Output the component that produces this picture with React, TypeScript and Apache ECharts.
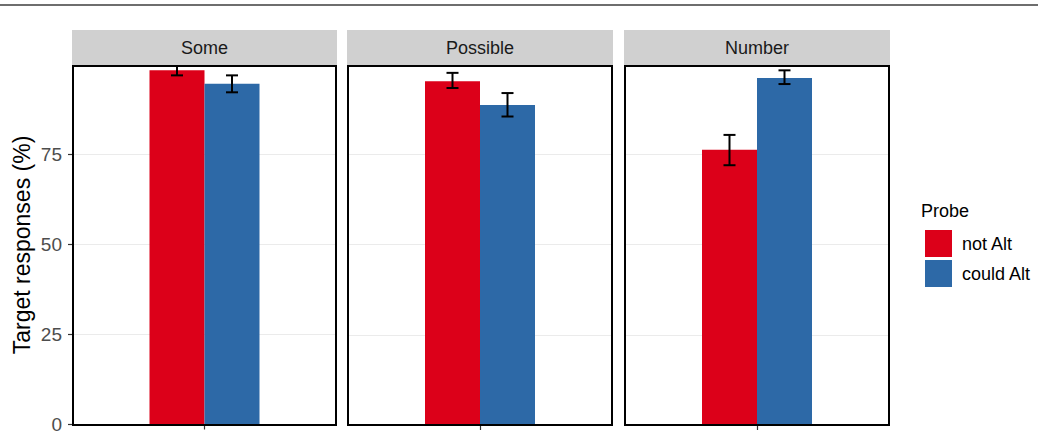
import React, { useEffect, useRef } from "react";
import * as echarts from "echarts";

const facets = ["Some", "Possible", "Number"];
const probes = ["not Alt", "could Alt"];
const notAltMean = [98.3, 95.3, 76.3];
const notAltLow = [96.9, 93.4, 72.0];
const notAltHigh = [99.5, 97.6, 80.4];
const couldAltMean = [94.6, 88.7, 96.2];
const couldAltLow = [92.2, 85.5, 94.5];
const couldAltHigh = [96.9, 92.0, 98.3];
const yTicks = [0, 25, 50, 75];
const yMax = 99.5;

const COLORS = ["#dc0019", "#2d69a7"];
const FONT = "Liberation Sans, Arial, Helvetica, sans-serif";
const BAR_W = 55;
const panels = [
  { left: 73, width: 263 },
  { left: 348, width: 264 },
  { left: 625, width: 264 },
];
const TOP = 66;
const BOTTOM_Y = 425;
const STRIP_TOP = 30;

export default function App() {
  const ref = useRef<HTMLDivElement>(null);
  useEffect(() => {
    if (!ref.current) return;
    const chart = echarts.init(ref.current, undefined, { renderer: "svg" });
    const grids: any[] = [];
    const xAxes: any[] = [];
    const yAxes: any[] = [];
    const series: any[] = [];
    const graphics: any[] = [];
    const means = [notAltMean, couldAltMean];
    const lows = [notAltLow, couldAltLow];
    const highs = [notAltHigh, couldAltHigh];

    facets.forEach((f, i) => {
      const p = panels[i];
      grids.push({
        left: p.left,
        width: p.width,
        top: TOP,
        height: BOTTOM_Y - TOP,
        containLabel: false,
      });
      xAxes.push({
        type: "category",
        gridIndex: i,
        data: [f],
        axisLine: { show: false },
        axisLabel: { show: false },
        axisTick: {
          show: true,
          alignWithLabel: true,
          length: 5,
          lineStyle: { color: "#333333", width: 1.2 },
        },
        splitLine: { show: false },
      });
      yAxes.push({
        type: "value",
        gridIndex: i,
        min: 0,
        max: yMax,
        interval: 25,
        axisLine: { show: false },
        axisTick: {
          show: i === 0,
          length: 5,
          customValues: yTicks,
          lineStyle: { color: "#333333", width: 1.2 },
        },
        axisLabel: {
          show: i === 0,
          customValues: yTicks,
          hideOverlap: false,
          margin: 11,
          color: "#4d4d4d",
          fontSize: 19,
          fontFamily: FONT,
          formatter: (v: number) => (yTicks.indexOf(v) >= 0 ? String(v) : ""),
        },
        splitLine: { show: true, lineStyle: { color: "#ebebeb", width: 1 } },
      });
      probes.forEach((pr, j) => {
        series.push({
          type: "bar",
          name: pr,
          xAxisIndex: i,
          yAxisIndex: i,
          data: [means[j][i]],
          barWidth: BAR_W,
          barGap: "0%",
          itemStyle: { color: COLORS[j] },
        });
      });
      series.push({
        type: "custom",
        xAxisIndex: i,
        yAxisIndex: i,
        z: 10,
        data: probes.map((_, j) => [j, lows[j][i], highs[j][i]]),
        renderItem: (params: any, api: any) => {
          const j = api.value(0);
          const lo = api.coord([0, api.value(1)]);
          const hi = api.coord([0, api.value(2)]);
          const x = lo[0] + (j === 0 ? -BAR_W / 2 : BAR_W / 2);
          const cap = 6;
          const style = { stroke: "#000", lineWidth: 2 };
          return {
            type: "group",
            children: [
              { type: "line", shape: { x1: x, y1: lo[1], x2: x, y2: hi[1] }, style },
              { type: "line", shape: { x1: x - cap, y1: hi[1], x2: x + cap, y2: hi[1] }, style },
              { type: "line", shape: { x1: x - cap, y1: lo[1], x2: x + cap, y2: lo[1] }, style },
            ],
          };
        },
      });
      graphics.push({
        type: "rect",
        shape: { x: p.left - 1, y: STRIP_TOP, width: p.width + 2, height: TOP - STRIP_TOP - 1 },
        style: { fill: "#d0d0d0" },
        z: 50,
      });
      graphics.push({
        type: "text",
        x: p.left + p.width / 2,
        y: (STRIP_TOP + TOP) / 2,
        style: {
          text: f,
          fill: "#1a1a1a",
          fontSize: 18,
          fontFamily: FONT,
          align: "center",
          verticalAlign: "middle",
        },
        z: 51,
      });
      graphics.push({
        type: "rect",
        shape: { x: p.left, y: TOP, width: p.width, height: BOTTOM_Y - TOP },
        style: { fill: "none", stroke: "#000", lineWidth: 2 },
        z: 100,
      });
    });

    graphics.push({
      type: "line",
      shape: { x1: 0, y1: 5, x2: 1038, y2: 5 },
      style: { stroke: "#6e6e6e", lineWidth: 2 },
    });
    graphics.push({
      type: "text",
      x: 22,
      y: 245,
      rotation: Math.PI / 2,
      style: {
        text: "Target responses (%)",
        fill: "#000",
        fontSize: 23,
        fontFamily: FONT,
        align: "center",
        verticalAlign: "middle",
      },
    });
    graphics.push({
      type: "text",
      x: 921,
      y: 211,
      style: {
        text: "Probe",
        fill: "#000",
        fontSize: 18,
        fontFamily: FONT,
        align: "left",
        verticalAlign: "middle",
      },
    });

    chart.setOption({
      animation: false,
      backgroundColor: "#ffffff",
      grid: grids,
      xAxis: xAxes,
      yAxis: yAxes,
      series,
      legend: {
        data: probes,
        orient: "vertical",
        left: 925,
        top: 230,
        itemWidth: 27,
        itemHeight: 27,
        itemGap: 3,
        icon: "rect",
        padding: 0,
        textStyle: { fontSize: 18, fontFamily: FONT, color: "#000", padding: [0, 0, 0, 5] },
      },
      graphic: graphics,
    });
    return () => chart.dispose();
  }, []);
  return (
    <div
      ref={ref}
      style={{ position: "fixed", left: 0, top: 0, width: 1038, height: 434, background: "#fff" }}
    />
  );
}
